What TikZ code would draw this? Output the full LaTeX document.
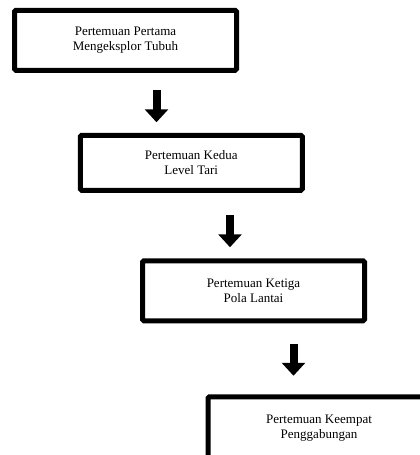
\documentclass[tikz,border=0pt]{standalone}
\usepackage{fontspec}
\setmainfont{Liberation Serif}
\usetikzlibrary{arrows.meta, positioning, calc}

\begin{document}
\begin{tikzpicture}[
  x=1pt, y=-1pt,
  stage/.style={rectangle, draw=black, line width=5pt, rounded corners=1.5pt, fill=white, align=center, font=\fontsize{13}{15}\selectfont, minimum width=222pt, minimum height=60pt, inner sep=2pt},
  down/.style={line width=8pt, -{Triangle[width=23pt, length=13pt]}}
]

\useasboundingbox (0,0) rectangle (420,455);
\clip (0,0) rectangle (420,455);

% Stages
\node[stage] (b1) at (125.5,40.25) {Pertemuan Pertama\\Mengeksplor Tubuh};
\node[stage, minimum height=55pt, below=60pt of b1, xshift=65.75pt] (b2) {Pertemuan Kedua\\Level Tari};
\node[stage, below=65.5pt of b2, xshift=62.25pt] (b3) {Pertemuan Ketiga\\Pola Lantai};
\node[stage, minimum height=62pt, below=71pt of b3, xshift=65.5pt] (b4) {Pertemuan Keempat\\Penggabungan};

% Block arrows
\coordinate (a1s) at ($(b1.south)+(31,17.5)$);
\coordinate (a1e) at ($(b1.south)+(31,49.5)$);
\coordinate (a2s) at ($(b2.south)+(38.75,22.5)$);
\coordinate (a2e) at ($(b2.south)+(38.75,54.5)$);
\coordinate (a3s) at ($(b3.south)+(40,20.5)$);
\coordinate (a3e) at ($(b3.south)+(40,52.5)$);

\foreach \i/\j in {a1s/a1e, a2s/a2e, a3s/a3e} {
    \draw[down] (\i) -- (\j);
}

\end{tikzpicture}
\end{document}
